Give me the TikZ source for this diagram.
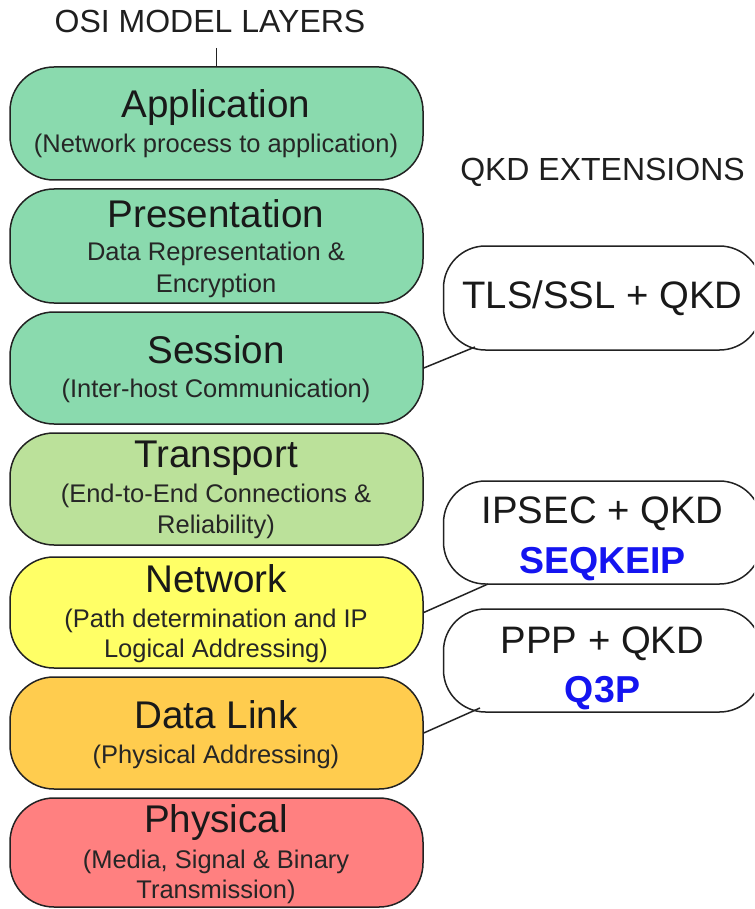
\documentclass[tikz,border=0pt]{standalone}
\usepackage{fontspec}
\setmainfont{Liberation Sans}
\definecolor{appgreen}{HTML}{8ADAAE}
\definecolor{transgreen}{HTML}{BBE19A}
\definecolor{netyellow}{HTML}{FFFF66}
\definecolor{linkorange}{HTML}{FFCC4E}
\definecolor{physred}{HTML}{FF8080}
\definecolor{inkline}{HTML}{222222}
\definecolor{extblue}{HTML}{1414F0}
\begin{document}
\begin{tikzpicture}[x=1pt,y=-1pt,
  layer/.style={draw=inkline, line width=1.5pt, rounded corners=44pt,
    minimum width=413pt, inner sep=0pt},
  extbox/.style={draw=inkline, fill=white, line width=1.5pt, rounded corners=42pt,
    minimum width=318pt, inner sep=0pt},
  heading/.style={anchor=base, font=\fontsize{32}{34}\selectfont, text=black!88},
  lname/.style={anchor=base, font=\fontsize{38.6}{40}\selectfont, text=black!90},
  lsub/.style={anchor=base, font=\fontsize{25.5}{27}\selectfont, text=black!85},
  extname/.style={anchor=base, font=\fontsize{38.3}{40}\selectfont, text=black!90},
  extproto/.style={anchor=base, font=\fontsize{37.5}{39}\selectfont\bfseries, text=extblue},
  link/.style={draw=inkline, line width=1.5pt}]
\useasboundingbox (0,0) rectangle (754,909);
\clip (0,0) rectangle (754,909);

% OSI stack
\node[layer, fill=appgreen,   minimum height=113pt] (app)   at (216.5,123.5) {};
\node[layer, fill=appgreen,   minimum height=114pt] (pres)  at (216.5,246)   {};
\node[layer, fill=appgreen,   minimum height=112pt] (ses)   at (216.5,368)   {};
\node[layer, fill=transgreen, minimum height=112pt] (trans) at (216.5,489)   {};
\node[layer, fill=netyellow,  minimum height=111pt] (net)   at (216.5,612.5) {};
\node[layer, fill=linkorange, minimum height=112pt] (dl)    at (216.5,733)   {};
\node[layer, fill=physred,    minimum height=109pt] (phys)  at (216.5,852.5) {};

% headings
\node[heading] (osititle) at (210,33) {OSI MODEL LAYERS};
\node[heading] (qkdtitle) at (602.5,181) {QKD EXTENSIONS};
\coordinate (titlefoot) at (216.5,48);
\draw[link] (titlefoot) -- (app.north);

% layer texts
\node[lname] (appn)  at (216,118) {Application};
\node[lsub]  (apps)  at (216,153) {(Network process to application)};
\node[lname] (presn) at (216,227) {Presentation};
\node[lsub]  (press1) at (216,260) {Data Representation \&};
\node[lsub]  (press2) at (216,292) {Encryption};
\node[lname] (sesn)  at (216,363) {Session};
\node[lsub]  (sess)  at (216,397) {(Inter-host Communication)};
\node[lname] (transn) at (216,467) {Transport};
\node[lsub]  (transs1) at (216,502) {(End-to-End Connections \&};
\node[lsub]  (transs2) at (216,533) {Reliability)};
\node[lname] (netn)  at (216,592) {Network};
\node[lsub]  (nets1) at (216,627) {(Path determination and IP};
\node[lsub]  (nets2) at (216,657) {Logical Addressing)};
\node[lname] (dln)   at (216,728) {Data Link};
\node[lsub]  (dls)   at (216,763) {(Physical Addressing)};
\node[lname] (physn) at (216,832) {Physical};
\node[lsub]  (physs1) at (216,868) {(Media, Signal \& Binary};
\node[lsub]  (physs2) at (216,898) {Transmission)};

% extension boxes
\node[extbox, minimum height=104pt] (tls)   at (602.5,298)   {};
\node[extbox, minimum height=103pt] (ipsec) at (602.5,532.5) {};
\node[extbox, minimum height=103pt] (ppp)   at (602.5,660.5) {};

\node[extname]  (tlsn)   at (602.5,308) {TLS/SSL + QKD};
\node[extname]  (ipsecn) at (602.5,523) {IPSEC + QKD};
\node[extproto] (ipsecp) at (602.5,573) {SEQKEIP};
\node[extname]  (pppn)   at (602.5,653) {PPP + QKD};
\node[extproto] (pppp)   at (602.5,702) {Q3P};

% connectors from layers to their extensions
\coordinate (tlsfoot)   at (475,347);
\coordinate (ipsecfoot) at (488,584);
\coordinate (pppfoot)   at (480,708);
\draw[link] (ses.east) -- (tlsfoot);
\draw[link] (net.east) -- (ipsecfoot);
\draw[link] (dl.east)  -- (pppfoot);
\end{tikzpicture}
\end{document}
